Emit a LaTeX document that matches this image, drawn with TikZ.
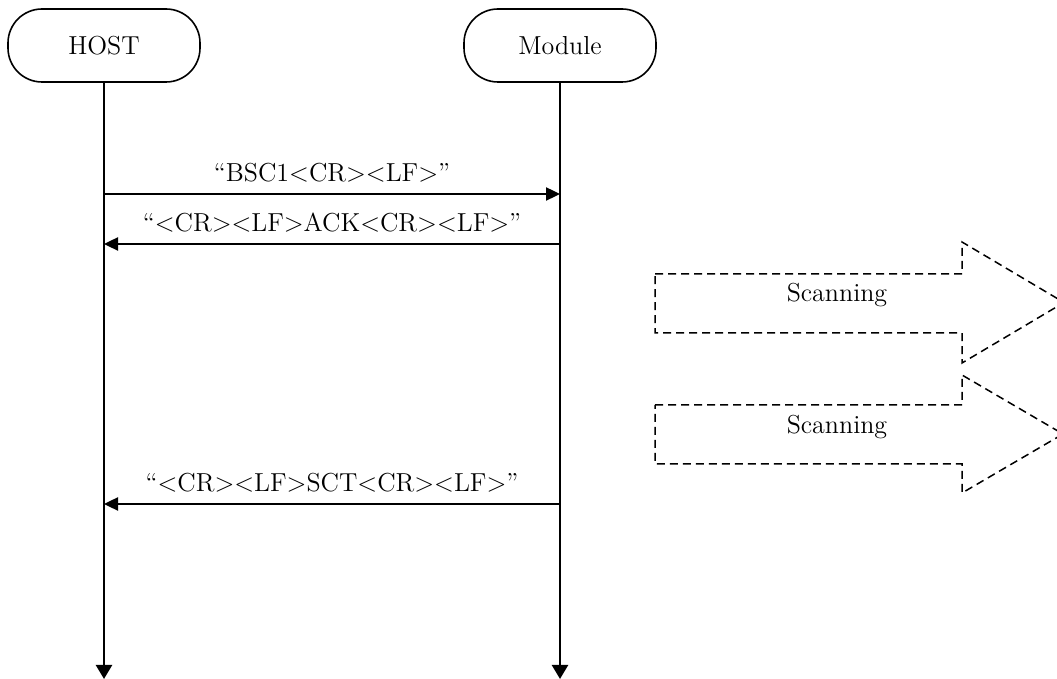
\documentclass[tikz,border=0pt]{standalone}
\usetikzlibrary{arrows.meta, positioning, calc}

\begin{document}
\begin{tikzpicture}[
  x=0.5pt, y=-0.5pt,
  font=\fontsize{13}{15}\selectfont,
  >={Triangle[length=7pt, width=6.5pt]},
  actor/.style={draw, line width=0.8pt, rounded corners=17pt, minimum width=96pt, minimum height=36.5pt},
  life/.style={-{Triangle[length=7pt, width=8pt]}, line width=1.2pt},
  msg/.style={->, line width=1.2pt},
  lbl/.style={midway, anchor=base, yshift=6pt},
  scan/.style={draw, dashed, dash pattern=on 4pt off 2.5pt, line width=0.75pt}
]
\clip (0,0) rectangle (1057,679);

% Actors
\node[actor] (host) at (104,45.5) {HOST};
\node[actor] (module) at (560,45.5) {Module};

% Lifelines
\coordinate (hostend) at (104,679);
\coordinate (moduleend) at (560,679);
\draw[life] (host) -- (hostend);
\draw[life] (module) -- (moduleend);

% Message points on the lifelines
\coordinate (h1) at (host |- 0,194);
\coordinate (m1) at (module |- 0,194);
\coordinate (h2) at (host |- 0,244);
\coordinate (m2) at (module |- 0,244);
\coordinate (h3) at (host |- 0,504);
\coordinate (m3) at (module |- 0,504);

% Messages
\draw[msg] (h1) -- (m1) node[lbl] (bsc) {``BSC1<CR><LF>''};
\draw[msg] (m2) -- (h2) node[lbl] (ack) {``<CR><LF>ACK<CR><LF>''};
\draw[msg] (m3) -- (h3) node[lbl] (sct) {``<CR><LF>SCT<CR><LF>''};

% Scanning arrows
\draw[scan] (655,274) -- (962,274) -- (962,242) -- (1064,302.5) -- (962,363) -- (962,333) -- (655,333) -- cycle;
\node[anchor=base] (scan1) at (837,302) {Scanning};

\draw[scan] (655,405) -- (962,405) -- (962,375) -- (1063,434) -- (962,493) -- (962,464) -- (655,464) -- cycle;
\node[anchor=base] (scan2) at (837,434) {Scanning};

\end{tikzpicture}
\end{document}
